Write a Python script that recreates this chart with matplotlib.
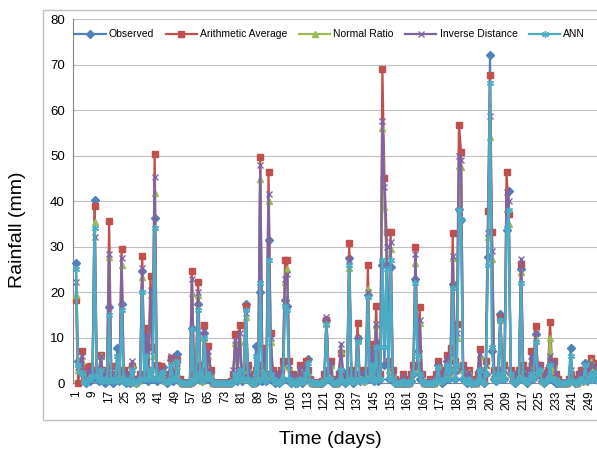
import matplotlib
matplotlib.use("Agg")
import matplotlib.pyplot as plt
from matplotlib.patches import Rectangle
import numpy as np

plt.rcParams['font.family'] = ['Liberation Sans', 'DejaVu Sans']

# daily rainfall (mm), days 1..253, one row = 10 days
observed = [
    26.4, 4.8, 3.0, 2.2, 0.5, 0, 0.5, 0.5, 2.0, 40.3,
    1.0, 0.5, 2.9, 0.5, 0, 0.5, 16.7, 0.5, 0, 1.0,
    7.8, 0.5, 17.5, 0.5, 0, 0.5, 0, 3.6, 0.5, 0,
    0.5, 1.0, 24.7, 1.0, 7.7, 0.5, 1.0, 1.0, 36.2, 0.5,
    1.0, 2.0, 3.5, 0.5, 0, 0.5, 5.1, 0.5, 1.0, 6.4,
    0.5, 0, 0, 0, 0, 0, 12.1, 0.5, 1.0, 17.4,
    2.0, 0.5, 11.0, 1.0, 2.0, 0.5, 0, 0, 0, 0,
    0, 0, 0, 0, 0, 0, 0.5, 1.0, 0.5, 2.0,
    0.5, 1.0, 17.4, 1.0, 0.5, 0, 0, 8.3, 0.5, 20.0,
    0.5, 1.0, 0.5, 31.5, 1.0, 0.5, 0, 0.5, 0, 0.5,
    1.0, 18.2, 17.0, 0.5, 0, 0.5, 0, 0, 1.0, 0,
    0.5, 2.0, 5.3, 0.5, 0, 0, 0, 0, 0, 0,
    0.5, 14.0, 1.0, 0.5, 0, 0, 0, 0.5, 3.0, 0.5,
    0, 0.5, 27.5, 1.0, 0, 0.5, 10.0, 0.5, 1.0, 0.5,
    1.0, 19.5, 1.0, 5.0, 0.5, 9.0, 0.5, 1.0, 25.9, 4.0,
    26.0, 1.0, 25.5, 0.5, 0, 0, 0, 0, 0, 0,
    0, 0, 0.5, 2.0, 23.0, 7.0, 1.0, 0.5, 0, 0,
    0, 0, 0, 0, 0.5, 4.0, 0.5, 0, 0.5, 5.0,
    1.0, 3.0, 21.8, 1.0, 3.0, 38.3, 35.9, 1.0, 0.5, 0,
    1.0, 0, 0, 0, 0.5, 3.0, 0.5, 0, 2.0, 27.7,
    72.0, 7.0, 1.0, 0.5, 2.0, 15.2, 1.0, 1.0, 33.7, 42.3,
    2.0, 0.5, 0, 0.5, 1.0, 25.0, 1.0, 0.5, 0, 1.0,
    2.0, 1.0, 10.9, 2.0, 3.0, 0.5, 0, 0.5, 1.0, 4.0,
    1.0, 0.5, 0, 0, 0, 0, 0, 0, 0.5, 7.8,
    0.5, 0, 0, 0.5, 1.0, 0.5, 4.5, 0.5, 1.0, 2.0,
    1.0, 3.0, 0.5,
]
arithmetic_avg = [
    18.3, 0, 3.5, 7.0, 1.5, 1.0, 3.5, 3.7, 3.0, 38.9,
    3.0, 2.0, 6.2, 2.0, 3.0, 2.0, 35.7, 3.7, 1.5, 2.0,
    3.7, 2.0, 29.6, 3.0, 1.0, 2.0, 1.0, 3.7, 1.0, 0.5,
    1.0, 2.0, 28.0, 2.0, 12.1, 3.0, 23.6, 8.0, 50.4, 4.0,
    2.0, 3.7, 2.0, 1.5, 1.0, 2.0, 5.5, 2.0, 3.0, 5.1,
    1.0, 0, 0, 0, 0, 0, 24.7, 2.0, 3.0, 22.3,
    4.0, 1.0, 12.9, 3.0, 8.3, 3.0, 0, 0, 0, 0,
    0, 0, 0, 0, 0, 0.5, 2.1, 10.9, 2.0, 12.9,
    3.0, 2.0, 16.9, 4.0, 2.0, 1.0, 0, 3.0, 2.0, 49.8,
    4.0, 7.7, 2.0, 46.3, 11.0, 3.0, 1.0, 2.0, 1.0, 3.0,
    5.0, 27.0, 27.1, 5.0, 1.0, 2.0, 1.0, 0.5, 4.0, 1.0,
    2.0, 5.0, 3.0, 1.0, 0, 0, 0, 0, 0, 0.5,
    2.0, 13.8, 3.0, 5.0, 1.0, 0, 0, 2.0, 6.6, 2.0,
    1.0, 2.0, 30.8, 3.0, 1.0, 2.0, 13.2, 2.0, 3.0, 1.0,
    3.0, 25.9, 3.0, 8.7, 2.0, 16.9, 3.0, 2.0, 69.0, 45.1,
    33.2, 5.0, 33.2, 3.0, 1.0, 0.5, 0, 0, 2.0, 1.0,
    0, 0, 2.0, 4.0, 30.0, 4.0, 16.7, 2.0, 0, 0,
    0, 1.0, 0, 0, 2.0, 5.0, 1.0, 2.0, 3.0, 6.3,
    3.0, 7.8, 32.9, 5.0, 13.1, 56.8, 50.9, 4.0, 2.0, 1.0,
    3.0, 1.0, 0, 0, 2.0, 7.6, 2.0, 1.0, 5.0, 37.8,
    67.7, 33.2, 3.0, 2.0, 3.0, 14.5, 3.0, 4.0, 46.3, 37.2,
    3.0, 1.5, 1.0, 2.0, 3.0, 26.2, 4.0, 2.0, 1.0, 3.0,
    7.2, 3.0, 12.5, 4.0, 4.0, 1.0, 1.0, 2.0, 3.0, 13.4,
    4.0, 5.0, 2.0, 1.0, 0, 0, 0, 0, 1.0, 2.0,
    1.0, 0.5, 0, 2.0, 3.0, 1.0, 3.0, 2.0, 3.0, 5.5,
    4.5, 3.0, 2.0,
]
normal_ratio = [
    19.4, 3.0, 5.1, 5.0, 1.0, 0.5, 2.5, 2.0, 2.0, 35.5,
    2.0, 1.5, 5.9, 1.0, 2.0, 1.0, 27.8, 2.5, 1.0, 1.0,
    2.5, 1.0, 26.0, 2.0, 0.5, 1.5, 0.5, 4.0, 0.5, 0,
    0.5, 1.5, 23.4, 1.5, 9.5, 2.0, 19.4, 6.0, 41.7, 3.0,
    1.5, 2.5, 1.5, 1.0, 0.5, 1.5, 4.8, 1.5, 2.0, 3.7,
    0.5, 0, 0, 0, 0, 0, 19.8, 1.5, 2.0, 19.4,
    3.0, 0.5, 10.0, 2.0, 6.0, 2.0, 0, 0, 0, 0,
    0, 0, 0, 0, 0, 0.3, 1.5, 8.8, 1.5, 9.0,
    2.0, 1.0, 14.6, 3.0, 1.5, 0.5, 0, 2.5, 1.5, 44.9,
    3.0, 6.0, 1.5, 40.1, 9.0, 2.0, 0.5, 1.5, 0.5, 2.0,
    4.0, 22.2, 25.0, 3.5, 0.5, 1.5, 0.5, 0.3, 3.0, 0.5,
    1.5, 3.5, 2.5, 0.5, 0, 0, 0, 0, 0, 0.3,
    1.5, 13.0, 2.0, 4.0, 0.5, 0, 0, 1.5, 7.0, 1.5,
    0.5, 1.5, 25.4, 2.0, 0.5, 1.5, 9.8, 1.5, 2.0, 0.5,
    2.0, 20.8, 2.0, 7.0, 1.5, 12.8, 2.0, 1.5, 56.0, 38.7,
    28.0, 3.0, 29.5, 2.0, 0.5, 0.3, 0, 0, 1.0, 0.5,
    0, 0, 1.5, 3.0, 26.5, 3.0, 13.3, 1.5, 0, 0,
    0, 0.5, 0, 0, 1.5, 4.0, 0.5, 1.0, 2.0, 5.0,
    2.0, 6.0, 27.6, 3.5, 10.0, 47.8, 47.4, 3.0, 1.5, 0.5,
    2.5, 0.5, 0, 0, 1.5, 6.0, 1.5, 0.5, 4.0, 32.1,
    54.0, 27.3, 2.0, 1.5, 2.5, 14.0, 2.0, 3.0, 38.3, 35.0,
    2.0, 1.0, 0.5, 1.5, 2.0, 24.4, 3.0, 1.5, 0.5, 2.0,
    5.0, 2.0, 10.0, 3.0, 3.5, 0.5, 0.5, 1.5, 2.0, 10.0,
    3.0, 4.0, 1.5, 0.5, 0, 0, 0, 0, 0.5, 3.0,
    0.5, 0.3, 0, 1.5, 2.0, 0.5, 2.5, 1.5, 2.5, 5.0,
    3.5, 2.5, 1.5,
]
inverse_distance = [
    22.3, 3.5, 4.5, 6.0, 1.0, 0.5, 3.0, 2.5, 2.5, 32.2,
    2.0, 1.8, 6.0, 1.5, 2.5, 1.5, 28.5, 3.0, 1.0, 1.5,
    3.0, 1.5, 27.5, 2.5, 0.5, 2.0, 1.0, 4.8, 1.0, 0.3,
    1.0, 2.0, 25.3, 2.0, 10.6, 2.5, 20.5, 7.0, 45.4, 3.5,
    1.5, 3.0, 1.5, 1.0, 0.8, 2.0, 5.9, 2.0, 2.5, 4.5,
    0.8, 0, 0, 0, 0, 0, 23.0, 2.0, 2.5, 20.0,
    3.5, 0.8, 11.5, 2.5, 7.0, 2.5, 0, 0, 0, 0,
    0, 0, 0, 0, 0, 0.3, 3.0, 9.5, 2.0, 11.0,
    2.5, 1.5, 15.5, 3.5, 2.0, 0.8, 0, 3.0, 2.0, 48.0,
    3.5, 7.0, 2.0, 41.6, 10.0, 2.5, 0.8, 2.0, 0.5, 2.5,
    4.5, 23.0, 24.0, 4.0, 0.8, 2.0, 0.5, 0.3, 3.5, 0.8,
    2.0, 4.0, 3.0, 0.8, 0, 0, 0, 0, 0, 0.3,
    2.0, 14.5, 2.5, 4.5, 0.8, 0, 0, 2.0, 8.7, 2.0,
    0.8, 2.0, 27.0, 2.5, 0.8, 2.0, 10.0, 2.0, 2.5, 0.8,
    2.5, 20.0, 2.5, 7.5, 2.0, 13.0, 2.5, 2.0, 57.6, 43.0,
    30.0, 4.0, 31.0, 2.5, 0.8, 0.3, 0, 0, 1.5, 0.5,
    0, 0, 2.0, 3.5, 28.5, 3.5, 14.0, 2.0, 0, 0,
    0, 0.8, 0, 0, 2.0, 4.5, 0.8, 1.5, 2.5, 5.5,
    2.5, 6.5, 28.0, 4.0, 11.0, 50.0, 49.0, 3.5, 2.0, 0.8,
    2.5, 0.5, 0, 0, 2.0, 6.5, 2.0, 0.8, 4.0, 33.0,
    58.7, 29.0, 2.0, 2.0, 3.0, 14.5, 2.5, 3.0, 42.0, 40.0,
    2.5, 1.0, 0.5, 2.0, 2.5, 27.4, 3.5, 2.0, 0.8, 2.5,
    6.0, 2.5, 11.0, 3.5, 4.0, 0.8, 0.5, 2.0, 2.5, 6.0,
    4.5, 4.5, 2.0, 0.5, 0, 0, 0, 0, 0.8, 3.0,
    0.8, 0.3, 0, 2.0, 2.5, 0.8, 3.0, 2.0, 3.0, 4.5,
    4.0, 3.0, 2.0,
]
ann = [
    25.0, 4.0, 2.5, 2.0, 0.3, 0, 1.0, 1.0, 1.5, 34.0,
    1.5, 0.8, 3.0, 0.5, 1.0, 0.5, 15.0, 1.0, 0.5, 1.0,
    6.0, 0.5, 16.0, 1.0, 0, 0.8, 0.3, 3.0, 0.5, 0,
    0.5, 1.0, 20.0, 1.0, 6.0, 1.0, 3.0, 1.0, 34.0, 1.0,
    1.0, 2.0, 2.5, 0.3, 0.5, 0.5, 4.0, 0.8, 1.0, 5.0,
    0.3, 0, 0, 0, 0, 0, 12.0, 0.5, 1.0, 16.0,
    2.0, 0.5, 10.0, 1.0, 2.0, 1.0, 0, 0, 0, 0,
    0, 0, 0, 0, 0, 0, 0.5, 2.0, 0.5, 3.0,
    1.0, 1.0, 16.0, 1.0, 0.5, 0, 0, 6.0, 0.5, 22.0,
    1.0, 2.0, 0.5, 27.0, 2.0, 1.0, 0.3, 0.5, 0, 0.5,
    1.0, 17.0, 16.0, 1.0, 0, 0.5, 0, 0, 1.0, 0.3,
    0.5, 2.0, 4.5, 0.5, 0, 0, 0, 0, 0, 0,
    0.5, 13.0, 1.0, 1.0, 0, 0, 0, 0.5, 3.0, 0.5,
    0, 0.5, 26.0, 1.0, 0.3, 0.5, 9.0, 0.5, 1.0, 0.5,
    1.0, 19.0, 1.0, 4.0, 0.5, 8.0, 1.0, 1.0, 27.0, 8.0,
    25.0, 1.0, 27.0, 1.0, 0, 0, 0, 0, 0.5, 0,
    0, 0, 0.5, 2.0, 22.0, 6.0, 2.0, 0.5, 0, 0,
    0, 0, 0, 0, 0.5, 3.5, 0.5, 0.5, 1.0, 4.0,
    1.0, 3.0, 21.0, 1.0, 4.0, 38.0, 36.0, 1.0, 0.5, 0.3,
    1.0, 0, 0, 0, 0.5, 3.0, 0.5, 0, 2.0, 26.0,
    66.0, 8.0, 1.0, 0.5, 2.0, 14.0, 1.0, 1.0, 34.0, 38.0,
    2.0, 0.5, 0, 0.5, 1.0, 22.0, 1.0, 0.5, 0.3, 1.0,
    2.0, 1.0, 9.0, 2.0, 3.0, 0.5, 0, 0.5, 1.0, 4.0,
    1.0, 1.0, 0.5, 0, 0, 0, 0, 0, 0.5, 6.0,
    0.5, 0, 0, 0.5, 1.0, 0.5, 4.0, 0.5, 1.0, 2.0,
    1.0, 2.5, 0.5,
]
days = np.arange(1, len(observed) + 1)
tick_days = list(range(1, 250, 8))

series = [
    ("Observed", observed, "#4F81BD", "D", 4.2),
    ("Arithmetic Average", arithmetic_avg, "#C0504D", "s", 4.2),
    ("Normal Ratio", normal_ratio, "#9BBB59", "^", 4.6),
    ("Inverse Distance", inverse_distance, "#8064A2", "x", 4.8),
    ("ANN", ann, "#4BACC6", (6, 2, 0), 5.0),
]

fig = plt.figure(figsize=(5.97, 4.57), dpi=100)
fig.patches.append(Rectangle((43 / 597, 37 / 457), 0.99, 410 / 457, transform=fig.transFigure,
                             fill=False, edgecolor="#BFBFBF", linewidth=1.0))
ax = fig.add_axes([73 / 597, 73.7 / 457, 524 / 597, 364.3 / 457])

for i, (name, vals, color, marker, ms) in enumerate(series):
    ax.plot(days, vals, color=color, linewidth=1.6, marker=marker, markersize=ms,
            markeredgewidth=1.0, label=name, zorder=3 + i, clip_on=False)

ax.set_xlim(1 - 3 / 2.07, 1 + 521 / 2.07)
ax.set_ylim(0, 80)
ax.set_yticks(range(0, 81, 10))
ax.set_xticks(tick_days)
ax.set_xticklabels([str(d) for d in tick_days], rotation=90, fontsize=8.5)
ax.tick_params(axis='y', labelsize=9.5, length=0, pad=6)
ax.tick_params(axis='x', length=0, pad=5)
ax.grid(axis='y', color="#BFBFBF", linewidth=0.8)
ax.set_axisbelow(True)
for side in ["top", "right"]:
    ax.spines[side].set_visible(False)
for side in ["left", "bottom"]:
    ax.spines[side].set_color("#868686")
    ax.spines[side].set_linewidth(0.8)

ax.legend(loc="center left", bbox_to_anchor=(-0.005, 0.958), ncol=5, frameon=False,
          fontsize=7.5, handlelength=3.0, handletextpad=0.3, columnspacing=1.1,
          borderaxespad=0)

fig.text(18 / 597, 1 - 230 / 457, "Rainfall (mm)", rotation=90, ha="center", va="center", fontsize=14)
fig.text(330 / 597, 1 - 440 / 457, "Time (days)", ha="center", va="center", fontsize=14)

plt.savefig("out.png", dpi=100)
plt.close()
